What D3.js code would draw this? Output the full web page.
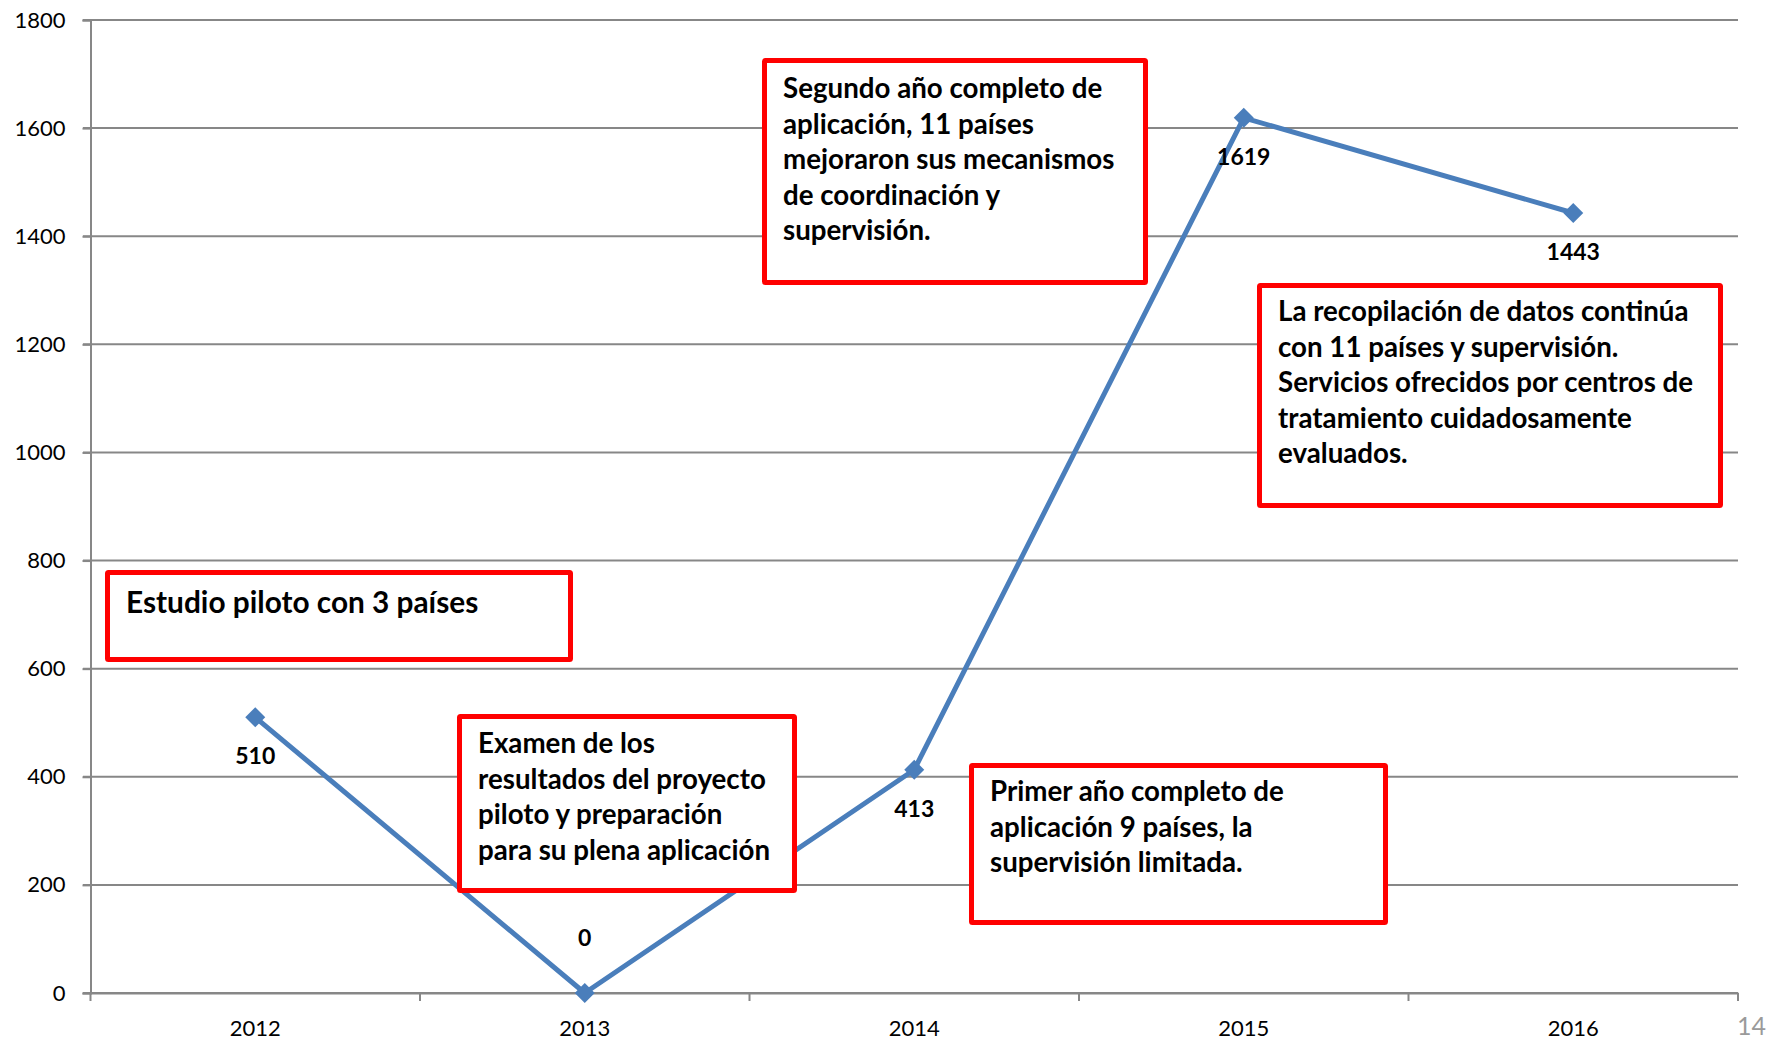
<!DOCTYPE html>
<html>
<head>
<meta charset="utf-8">
<script src="https://cdn.jsdelivr.net/npm/d3@7"></script>
<style>
  body { margin: 0; background: #fff; }
  svg { display: block; }
</style>
</head>
<body>
<div id="chart"></div>
<script>
var width = 1779, height = 1042;

// data
var years = ["2012", "2013", "2014", "2015", "2016"];
var values = [510, 0, 413, 1619, 1443];
var yTicks = [0, 200, 400, 600, 800, 1000, 1200, 1400, 1600, 1800];

// annotation texts (one line per entry)
var notes = [
  ["Estudio piloto con 3 países"],
  ["Examen de los", "resultados del proyecto", "piloto y preparación", "para su plena aplicación"],
  ["Primer año completo de", "aplicación 9 países, la", "supervisión limitada."],
  ["Segundo año completo de", "aplicación, 11 países", "mejoraron sus mecanismos", "de coordinación y", "supervisión."],
  ["La recopilación de datos continúa", "con 11 países y supervisión.", "Servicios ofrecidos por centros de", "tratamiento cuidadosamente", "evaluados."]
];
// box placement in pixels: x, y, w, h, first baseline offset, font size
var noteBoxes = [
  [105, 570, 468, 92, 43, 29.8],
  [457, 714, 340, 179, 39, 27.7],
  [969, 763, 419, 162, 38, 27.7],
  [762, 58, 386, 227, 40, 27.7],
  [1257, 283, 466, 225, 38, 27.7]
];

var svg = d3.select("#chart").append("svg")
    .attr("width", width)
    .attr("height", height);

var x = d3.scaleBand()
    .domain(years)
    .range([90.5, 1738]);

var y = d3.scaleLinear()
    .domain([0, 1800])
    .range([993, 20]);

// gridlines
svg.append("g")
    .selectAll("line")
    .data(yTicks)
    .enter().append("line")
    .attr("x1", 83)
    .attr("x2", 1738)
    .attr("y1", function(d) { return y(d); })
    .attr("y2", function(d) { return y(d); })
    .attr("stroke", "#878787")
    .attr("stroke-width", 2);

// y axis
var yAxis = svg.append("g")
    .attr("transform", "translate(90.5,0)")
    .call(d3.axisLeft(y).tickValues(yTicks).tickFormat(d3.format("d")).tickSize(8).tickPadding(17));
yAxis.select(".domain").attr("stroke", "#878787").attr("stroke-width", 2);
yAxis.selectAll(".tick line").attr("stroke", "#878787").attr("stroke-width", 2);
yAxis.selectAll("text")
    .attr("font-family", "Lato, 'Open Sans', sans-serif")
    .attr("font-size", "22px")
    .attr("fill", "#000");

// x axis
var xAxis = svg.append("g")
    .attr("transform", "translate(0,993)")
    .call(d3.axisBottom(x).tickSize(0).tickPadding(27));
xAxis.select(".domain").attr("stroke", "#878787").attr("stroke-width", 2);
xAxis.selectAll("text")
    .attr("font-family", "Lato, 'Open Sans', sans-serif")
    .attr("font-size", "22px")
    .attr("fill", "#000");

// x tick marks on band edges
var edges = years.map(function(d) { return x(d); }).concat([x.range()[1]]);
svg.append("g")
    .selectAll("line")
    .data(edges)
    .enter().append("line")
    .attr("x1", function(d) { return d; })
    .attr("x2", function(d) { return d; })
    .attr("y1", 993)
    .attr("y2", 1001)
    .attr("stroke", "#878787")
    .attr("stroke-width", 2);

// series line
var line = d3.line()
    .x(function(d, i) { return x(years[i]) + x.bandwidth() / 2; })
    .y(function(d) { return y(d); });

svg.append("path")
    .datum(values)
    .attr("d", line)
    .attr("fill", "none")
    .attr("stroke", "#4a7ebb")
    .attr("stroke-width", 5)
    .attr("stroke-linejoin", "round");

svg.selectAll(".marker")
    .data(values)
    .enter().append("path")
    .attr("class", "marker")
    .attr("d", d3.symbol().type(d3.symbolSquare).size(200))
    .attr("transform", function(d, i) {
        return "translate(" + (x(years[i]) + x.bandwidth() / 2) + "," + y(d) + ") rotate(45)";
    })
    .attr("fill", "#4a7ebb");

// data labels (zero sits above the point, others below)
svg.selectAll(".vlabel")
    .data(values)
    .enter().append("text")
    .attr("class", "vlabel")
    .text(function(d) { return d; })
    .attr("x", function(d, i) { return x(years[i]) + x.bandwidth() / 2; })
    .attr("y", function(d) { return d === 0 ? y(d) - 47 : y(d) + 47; })
    .attr("text-anchor", "middle")
    .attr("font-family", "Lato, 'Open Sans', sans-serif")
    .attr("font-size", "23px")
    .attr("font-weight", "bold")
    .attr("fill", "#000");

// annotation boxes
notes.forEach(function(lines, k) {
    var b = noteBoxes[k];
    var g = svg.append("g");
    g.append("rect")
        .attr("x", b[0] + 2.5)
        .attr("y", b[1] + 2.5)
        .attr("width", b[2] - 5)
        .attr("height", b[3] - 5)
        .attr("rx", 1)
        .attr("fill", "#fff")
        .attr("stroke", "#ff0000")
        .attr("stroke-width", 5);
    g.selectAll("text")
        .data(lines)
        .enter().append("text")
        .text(function(d) { return d; })
        .attr("x", b[0] + 21)
        .attr("y", function(d, i) { return b[1] + b[4] + i * 35.5; })
        .attr("font-family", "Lato, 'Open Sans', sans-serif")
        .attr("font-size", b[5] + "px")
        .attr("font-weight", "bold")
        .attr("fill", "#000");
});

// page number
svg.append("text")
    .text("14")
    .attr("x", 1766)
    .attr("y", 1035)
    .attr("text-anchor", "end")
    .attr("font-family", "Lato, 'Open Sans', sans-serif")
    .attr("font-size", "25px")
    .attr("fill", "#9a9a9a");
</script>
</body>
</html>
